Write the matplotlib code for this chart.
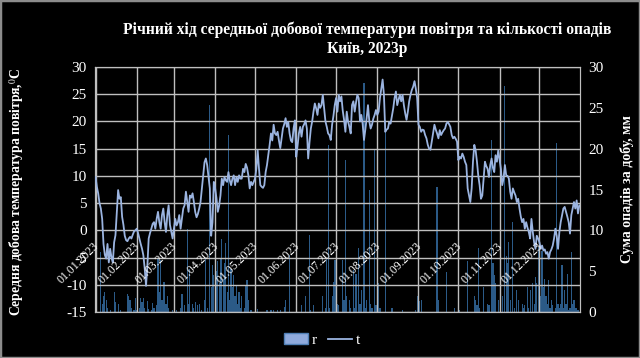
import matplotlib.pyplot as plt
import matplotlib.transforms as mtransforms
from matplotlib.patches import Patch, Rectangle
from matplotlib.lines import Line2D
import pandas as pd

# daily mean air temperature, Kyiv 2023 (deg C), one row per month
t_jan = [9.8, 8.0, 6.8, 5.0, 4.0, 2.1, -2.5, -4.5, -5.2, -2.5, -5.9, -3.4, -5.0, -5.9, -2.2, -0.9,
         3.4, 7.4, 5.8, 6.1, 2.5, 1.0, -1.0, -1.8, -2.0, -1.5, -1.2, -1.5, -0.8, -0.2, 0.0]
t_feb = [0.3, -0.5, -1.5, -2.5, -3.4, -4.6, -7.0, -10.2, -6.5, -1.5, -0.5, 0.3, 1.2, 1.5, 0.3, 2.1,
         3.4, 1.5, 0.3, 2.8, 4.0, 1.5, -0.3, 2.8, 4.6, 1.0, -0.3, -1.5]
t_mar = [0.3, 2.1, 0.9, 1.5, 2.8, 0.3, 2.1, 4.0, 4.6, 7.1, 5.2, 3.4, 6.4, 6.0, 6.8, 5.2,
         3.4, 2.4, 3.0, 4.0, 5.2, 7.7, 10.0, 12.5, 13.2, 12.0, 9.8, 7.7, -1.0, 1.5, 8.9]
t_apr = [7.7, 5.9, 3.4, 4.5, 6.4, 9.5, 8.3, 9.8, 9.2, 8.9, 10.7, 9.2, 8.3, 9.5, 10.1, 8.3,
         9.8, 8.9, 10.1, 9.5, 9.5, 11.3, 10.7, 12.2, 11.5, 10.1, 7.7, 8.9, 8.3, 8.9]
t_may = [9.5, 11.3, 14.7, 11.3, 8.3, 8.0, 7.8, 8.3, 10.7, 12.0, 13.8, 15.7, 17.8, 16.5, 19.4, 17.8,
         17.5, 18.1, 16.5, 15.1, 16.9, 18.7, 19.5, 20.6, 19.0, 19.9, 17.8, 16.5, 16.2, 18.7, 20.2]
t_jun = [13.5, 15.5, 17.8, 19.0, 17.2, 19.0, 19.5, 20.2, 18.7, 13.2, 16.2, 18.7, 20.0, 21.8, 23.3, 22.4,
         21.2, 23.3, 22.5, 23.0, 24.9, 22.4, 20.0, 19.0, 17.8, 17.5, 16.6, 19.4, 21.0, 23.0]
t_jul = [24.3, 21.8, 24.9, 23.7, 24.6, 22.0, 20.3, 18.1, 21.8, 20.0, 19.0, 17.8, 23.0, 23.7, 21.8, 23.5,
         24.9, 24.3, 20.0, 21.2, 19.5, 16.6, 18.5, 20.6, 23.0, 20.0, 18.7, 19.4, 20.5, 21.2, 22.1]
t_aug = [21.2, 21.8, 24.3, 26.0, 27.7, 24.9, 18.1, 18.5, 18.7, 19.9, 19.6, 21.0, 22.4, 24.3, 25.5, 23.0,
         24.0, 24.9, 23.7, 24.9, 23.0, 21.5, 20.3, 21.8, 23.7, 24.9, 25.8, 26.4, 27.4, 26.0, 24.3]
t_sep = [19.4, 19.0, 18.1, 18.5, 18.4, 17.5, 16.9, 15.7, 15.0, 14.8, 16.3, 17.8, 19.4, 18.5, 17.8, 16.9,
         18.4, 17.5, 18.0, 18.4, 18.7, 19.6, 19.9, 19.5, 19.0, 17.5, 16.9, 17.2, 16.8, 16.3]
t_oct = [12.9, 13.5, 13.2, 14.1, 13.5, 12.6, 12.0, 7.7, 6.4, 5.2, 7.7, 12.6, 15.7, 14.7, 12.6, 10.0,
         8.3, 5.8, 6.4, 9.5, 12.6, 11.8, 11.3, 9.8, 12.0, 13.2, 11.5, 10.7, 13.8, 12.6, 14.7]
t_nov = [13.0, 11.3, 8.3, 9.5, 12.0, 10.1, 10.0, 9.5, 7.1, 5.8, 7.7, 7.0, 6.4, 5.2, 5.8, 4.0,
         2.5, 1.5, 2.1, 0.3, 1.5, 0.5, -0.3, -1.5, 2.1, -0.3, -2.2, -3.4, -1.0, -1.5]
t_dec = [-2.2, -3.4, -2.8, -3.7, -3.5, -4.3, -4.0, -5.2, -4.0, -3.5, -2.8, -1.5, 0.3, -1.0, -3.4, -0.3,
         1.5, 2.8, 4.0, 4.3, 3.4, 2.5, 1.5, -0.6, 2.8, 4.0, 5.2, 4.0, 5.5, 3.1, 4.6]

# daily precipitation sum (mm)
r_jan = [0, 0, 0, 0, 7.4, 1.0, 2.0, 2.5, 1.5, 0.5, 0, 0.3, 0, 0, 2.5, 1.2,
         0, 1.0, 0, 0.3, 0, 0, 0, 0, 2.2, 2.0, 1.5, 0.5, 0, 0.3, 1.7]
r_feb = [0.3, 0, 0.5, 1.7, 1.2, 1.7, 0.5, 0, 1.3, 0.4, 0, 0.3, 1.1, 0.5, 0, 0.8,
         6.6, 2.5, 6.4, 1.5, 3.7, 3.7, 1.0, 2.0, 0.5, 0, 0, 0.3]
r_mar = [0, 0, 0.3, 0, 0, 0.5, 2.2, 0, 0.8, 0, 10.2, 1.0, 5.3, 0, 1.0, 0.5,
         1.2, 0, 0.8, 1.0, 0, 0.3, 0, 1.5, 6.6, 0.5, 0, 25.3, 3.0, 5.8, 4.5]
r_apr = [6.6, 5.0, 6.2, 3.5, 6.6, 9.0, 4.0, 6.0, 8.4, 2.5, 21.7, 1.5, 5.3, 3.0, 4.5, 2.0,
         3.3, 1.0, 2.5, 0.5, 2.0, 0, 0.5, 3.3, 3.9, 1.5, 0, 0.3, 0, 0]
r_may = [0, 0, 0.4, 0, 0, 0, 0, 0, 0, 0.2, 0, 0, 0.2, 0, 0.3, 0,
         0, 0.2, 0, 0.3, 0, 0, 0.6, 1.5, 0, 0, 7.0, 0, 0, 0, 0]
r_jun = [0, 0, 0, 0, 0.8, 0, 0, 2.0, 0, 0, 9.4, 0.3, 0, 0.8, 0, 0,
         0, 0, 0, 0, 2.0, 0, 0.5, 6.6, 20.4, 0.5, 0, 2.0, 3.7, 6.4]
r_jul = [6.4, 1.0, 0.8, 0, 0, 6.4, 1.5, 18.6, 2.0, 0, 1.5, 0.5, 0, 5.1, 0.5, 4.7,
         0, 7.8, 1.0, 2.7, 0, 28.0, 0.5, 1.5, 0, 14.9, 1.0, 0.5, 0, 19.8, 0.8]
r_aug = [0.5, 3.5, 0.5, 0, 0, 0, 23.5, 0, 0, 0, 0, 0.5, 0, 0, 0, 0,
         0, 0, 0, 0.3, 0, 0, 0, 0, 0, 0, 0, 0, 0, 0.3, 1.9]
r_sep = [1.9, 1.3, 1.5, 0, 0, 0, 0, 0, 0, 0, 0, 0, 0, 0, 15.3, 1.5,
         0, 0, 0, 0, 0, 4.9, 0, 0, 0, 0, 0, 0.5, 0, 0]
r_oct = [1.0, 0.3, 0, 0, 0, 0, 0, 6.2, 0, 0, 0, 0, 1.9, 1.5, 0.8, 7.8,
         0.5, 0, 0, 3.1, 0, 0, 1.0, 0.8, 0, 21.1, 6.0, 4.5, 3.5, 0, 1.5]
r_nov = [0, 1.0, 1.9, 0, 27.7, 6.8, 6.0, 8.6, 1.5, 0, 11.0, 0.5, 0, 2.7, 1.5, 0,
         0, 1.0, 0.5, 0.8, 0, 3.1, 0.5, 2.7, 0, 3.5, 1.0, 4.3, 3.5, 8.0]
r_dec = [3.0, 2.0, 7.5, 3.1, 4.0, 2.0, 1.0, 3.9, 0.5, 1.5, 0.8, 0, 0.5, 20.7, 1.0, 0.5,
         1.0, 5.8, 0.5, 2.7, 1.0, 4.7, 0.3, 0.5, 7.4, 1.0, 1.5, 0.5, 0.5, 0.3, 0]

month_labels = ["01.01.2023", "01.02.2023", "01.03.2023", "01.04.2023", "01.05.2023", "01.06.2023",
                "01.07.2023", "01.08.2023", "01.09.2023", "01.10.2023", "01.11.2023", "01.12.2023"]

temp = t_jan + t_feb + t_mar + t_apr + t_may + t_jun + t_jul + t_aug + t_sep + t_oct + t_nov + t_dec
rain = r_jan + r_feb + r_mar + r_apr + r_may + r_jun + r_jul + r_aug + r_sep + r_oct + r_nov + r_dec

days_t = pd.date_range("2023-01-01", periods=len(temp), freq="D")
days_r = pd.date_range("2023-01-01", periods=len(rain), freq="D")
month_starts = pd.to_datetime(month_labels, format="%d.%m.%Y")

plt.rcParams['font.family'] = "Liberation Serif"
plt.rcParams['mathtext.fontset'] = 'stix'
plt.rcParams['axes.unicode_minus'] = False
fg = 'white'
grid_c = '#BFBFBF'

fig = plt.figure(figsize=(6.4, 3.58), dpi=100, facecolor='black')
ax = fig.add_axes([0.1484, 0.1285, 0.7578, 0.6843])
ax2 = ax.twinx()
ax.set_zorder(ax2.get_zorder() + 1)
ax.patch.set_visible(False)
ax2.set_facecolor('black')

# precipitation bars on the right axis
ax2.bar(days_r, rain, width=0.9, color='#2B5A87', linewidth=0, zorder=2)
ax2.set_ylim(0, 30)
ax2.set_yticks(range(0, 31, 5))

# temperature line on the left axis
ax.plot(days_t, temp, color='#9BB4E0', lw=1.3, zorder=3)
ax.set_ylim(-15, 30)
ax.set_yticks(range(-15, 31, 5))

ax.set_xlim(pd.Timestamp("2023-01-01") - pd.Timedelta(hours=10), pd.Timestamp("2023-12-31") + pd.Timedelta(hours=12))
ax.set_xticks(month_starts)
ax.set_xticklabels([])
ax.grid(True, color=grid_c, lw=1.0, zorder=0)
ax.tick_params(axis='x', length=0)
for a in (ax, ax2):
    a.tick_params(axis='y', length=0, colors=fg, labelsize=11, pad=6)
    for s in a.spines.values():
        s.set_color(grid_c)

# date labels sit under the zero line, as in the spreadsheet chart
off = mtransforms.offset_copy(ax.transData, fig=fig, x=-2, y=-7, units='points')
for d, lab in zip(month_starts, month_labels):
    ax.text(d, 0, lab, transform=off, rotation=45, rotation_mode='anchor',
            ha='right', va='top', color=fg, fontsize=8.5, zorder=5)

ax.set_ylabel("Середня добова температура повітря,$^0$С", color=fg, fontsize=9.8,
              fontweight='bold')
ax.yaxis.set_label_coords(-0.142, 0.49)
ax2.set_ylabel("Сума опадів за добу, мм", color=fg, fontsize=10, fontweight='bold', labelpad=12)

fig.text(0.573, 1 - 39 / 358, "Річний хід середньої добової температури повітря та кількості опадів\nКиїв, 2023р",
         ha='center', va='center', color=fg, fontsize=11.2, fontweight='bold', linespacing=1.25)

handles = [Patch(facecolor='#8FAADC', edgecolor='#4F7FB5'), Line2D([], [], color='#9BB4E0', lw=1.3)]
fig.legend(handles, ['r', 't'], loc='center', bbox_to_anchor=(0.503, 1 - 340 / 358), ncol=2,
           frameon=False, labelcolor=fg, fontsize=11, handlelength=1.6, handletextpad=0.25,
           columnspacing=0.7)

fig.add_artist(Rectangle((0, 0), 1, 1, transform=fig.transFigure, fill=False,
                         edgecolor='#8C8C8C', lw=2.5))

fig.savefig("out.png", dpi=100, facecolor='black')
